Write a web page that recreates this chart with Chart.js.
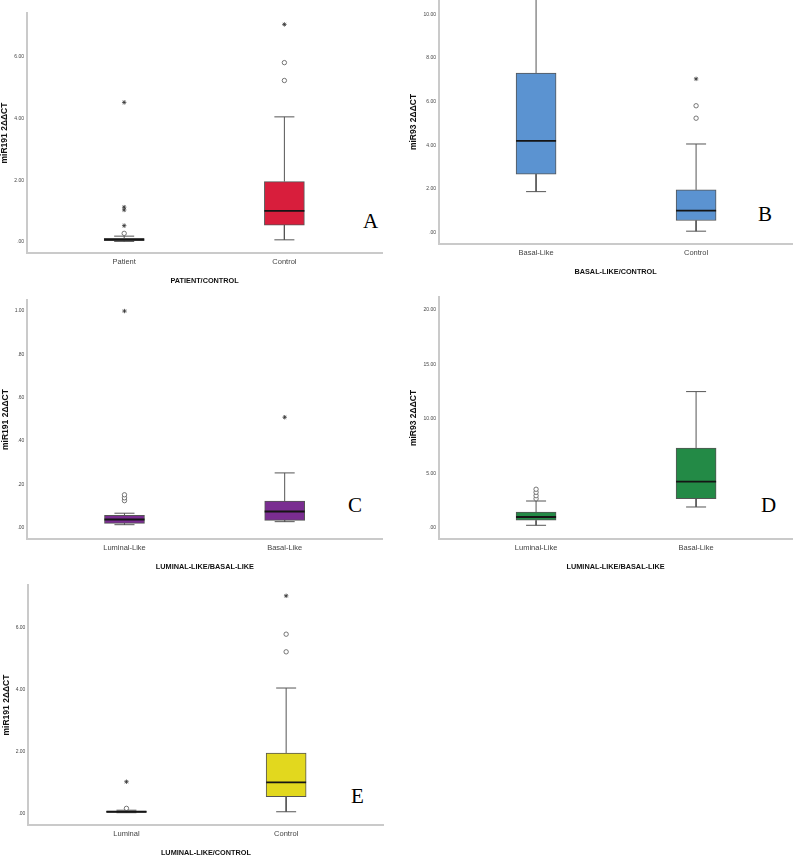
<!DOCTYPE html>
<html>
<head>
<meta charset="utf-8">
<script src="https://cdn.jsdelivr.net/npm/chart.js@4.4.0/dist/chart.umd.min.js"></script>
<style>
  html, body { margin: 0; padding: 0; background: #fff; width: 794px; height: 856px; overflow: hidden; }
  .panel { position: absolute; }
  .tag { position: absolute; font-family: 'Liberation Serif', 'Times New Roman', serif; font-size: 21px; line-height: 21px; color: #000; }
</style>
</head>
<body>
<div class="tag" style="left:363px;top:211px">A</div>
<div class="tag" style="left:758px;top:204px">B</div>
<div class="tag" style="left:348px;top:495px">C</div>
<div class="tag" style="left:761px;top:495px">D</div>
<div class="tag" style="left:351px;top:786px">E</div>
<script>
// A: miR191, patient vs control
const catsA = ['Patient', 'Control'];
const minA = [0.02, 0.07];
const q1A = [0.04, 0.55];
const medA = [0.08, 1.01];
const q3A = [0.12, 1.96];
const maxA = [0.19, 4.06];
const circA = [[0.28], [5.24, 5.82]];
const starA = [[0.53, 1.04, 1.13, 4.53], [7.06]];
const ticksA = [0, 2, 4, 6];

// B: miR93, basal-like vs control
const catsB = ['Basal-Like', 'Control'];
const minB = [1.88, 0.07];
const q1B = [2.68, 0.56];
const medB = [4.20, 1.01];
const q3B = [7.31, 1.96];
const maxB = [12.5, 4.06];
const circB = [[], [5.24, 5.81]];
const starB = [[], [7.04]];
const ticksB = [0, 2, 4, 6, 8, 10];

// C: miR191, luminal-like vs basal-like
const catsC = ['Luminal-Like', 'Basal-Like'];
const minC = [0.014, 0.028];
const q1C = [0.020, 0.034];
const medC = [0.038, 0.075];
const q3C = [0.057, 0.123];
const maxC = [0.067, 0.253];
const circC = [[0.125, 0.138, 0.152], []];
const starC = [[1.0], [0.51]];
const ticksC = [0, 0.2, 0.4, 0.6, 0.8, 1.0];

// D: miR93, luminal-like vs basal-like
const catsD = ['Luminal-Like', 'Basal-Like'];
const minD = [0.22, 1.90];
const q1D = [0.68, 2.66];
const medD = [0.98, 4.23];
const q3D = [1.44, 7.32];
const maxD = [2.45, 12.5];
const circD = [[2.66, 2.94, 3.25, 3.53], []];
const starD = [[], []];
const ticksD = [0, 5, 10, 15, 20];

// E: miR191, luminal vs control
const catsE = ['Luminal', 'Control'];
const minE = [0.02, 0.05];
const q1E = [0.03, 0.54];
const medE = [0.05, 1.00];
const q3E = [0.07, 1.95];
const maxE = [0.10, 4.05];
const circE = [[0.16], [5.22, 5.79]];
const starE = [[1.02], [7.03]];
const ticksE = [0, 2, 4, 6];

const FONT = "'Liberation Sans', Arial, sans-serif";
const LINE = '#555';
const AXIS = '#cacaca';
const YTITLE = 8.5;

// SPSS style: .00, .20, 2.00
function fmt(v) {
  const s = v.toFixed(2);
  return s[0] === '0' ? s.slice(1) : s;
}

function boxPlot(p) {
  const pt = 5, pb = 4, pr = 10, xH = 32;
  const left = p.titleX - YTITLE * 0.6;
  const yW = p.axisX - left;
  const top = p.top - pt;
  const w = p.right - left + pr;
  const h = (p.bottom - p.top) + pt + xH + pb;

  const wrap = document.createElement('div');
  wrap.className = 'panel';
  wrap.style.left = left + 'px';
  wrap.style.top = top + 'px';
  wrap.style.width = w + 'px';
  wrap.style.height = h + 'px';
  const cv = document.createElement('canvas');
  wrap.appendChild(cv);
  document.body.appendChild(wrap);

  const cap = 0.0625, half = 0.125;
  const boxes = p.q1.map((q, i) => ({x: i, y: [q, p.q3[i]]}));
  const whisk = [];
  p.lo.forEach((lo, i) => {
    const hi = p.hi[i];
    whisk.push(
      {x: i, y: p.q3[i]}, {x: i, y: hi}, {x: i, y: null},
      {x: i - cap, y: hi}, {x: i + cap, y: hi}, {x: i, y: null},
      {x: i, y: p.q1[i]}, {x: i, y: lo}, {x: i, y: null},
      {x: i - cap, y: lo}, {x: i + cap, y: lo}, {x: i, y: null}
    );
  });
  const meds = [];
  p.med.forEach((m, i) => meds.push({x: i - half, y: m}, {x: i + half, y: m}, {x: i, y: null}));
  const circ = [], star = [];
  p.circ.forEach((arr, i) => arr.forEach(v => circ.push({x: i, y: v})));
  p.star.forEach((arr, i) => arr.forEach(v => star.push({x: i, y: v})));

  new Chart(cv, {
    type: 'scatter',
    data: {
      datasets: [
        {type: 'line', data: meds, borderColor: '#151515', borderWidth: 1.8, pointRadius: 0, fill: false},
        {type: 'scatter', data: circ, pointStyle: 'circle', pointRadius: 2.2, backgroundColor: '#fff', borderColor: LINE, borderWidth: 0.8},
        {type: 'scatter', data: star, pointStyle: 'star', pointRadius: 2.2, borderColor: '#333', borderWidth: 0.8},
        {type: 'line', data: whisk, borderColor: LINE, borderWidth: 1, pointRadius: 0, fill: false},
        {type: 'bar', data: boxes, backgroundColor: p.color, borderColor: LINE, borderWidth: 1, borderSkipped: false, barThickness: 40}
      ]
    },
    options: {
      responsive: true,
      maintainAspectRatio: false,
      animation: false,
      events: [],
      layout: {padding: {top: pt, right: pr, bottom: pb, left: 0}},
      plugins: {legend: {display: false}, tooltip: {enabled: false}},
      scales: {
        x: {
          type: 'linear', min: p.xmin, max: p.xmax, offset: false,
          grid: {display: false, drawTicks: false},
          border: {color: AXIS, width: 2},
          ticks: {font: {size: 7.5, family: FONT}, color: '#444', padding: 4, callback: v => p.cats[v] || ''},
          title: {display: true, text: p.xTitle, color: '#111', padding: 0, font: {size: 7.3, weight: 'bold', family: FONT}},
          afterBuildTicks: s => { s.ticks = p.cats.map((c, i) => ({value: i})); },
          afterFit: s => { s.height = xH; }
        },
        y: {
          type: 'linear', min: p.ymin, max: p.ymax,
          grid: {display: false, drawTicks: false},
          border: {color: AXIS, width: 2},
          ticks: {font: {size: 5, family: FONT}, color: '#444', padding: 3, callback: v => fmt(v)},
          title: {display: true, text: p.yTitle, color: '#111', padding: 0, font: {size: YTITLE, weight: 'bold', family: FONT}},
          afterBuildTicks: s => { s.ticks = p.ticks.map(v => ({value: v})); },
          afterFit: s => { s.width = yW; s.paddingTop = 0; s.paddingBottom = 0; }
        }
      }
    }
  });
}

boxPlot({cats: catsA, lo: minA, q1: q1A, med: medA, q3: q3A, hi: maxA, circ: circA, star: starA, ticks: ticksA,
  color: '#d81e3c', yTitle: 'miR191 2ΔΔCT', xTitle: 'PATIENT/CONTROL',
  titleX: 5, axisX: 27, top: 13, bottom: 253, right: 382, ymin: -0.357, ymax: 7.43, xmin: -0.606, xmax: 1.61});

boxPlot({cats: catsB, lo: minB, q1: q1B, med: medB, q3: q3B, hi: maxB, circ: circB, star: starB, ticks: ticksB,
  color: '#5b93d1', yTitle: 'miR93 2ΔΔCT', xTitle: 'BASAL-LIKE/CONTROL',
  titleX: 414, axisX: 439, top: 0, bottom: 244, right: 792, ymin: -0.517, ymax: 10.65, xmin: -0.606, xmax: 1.6});

boxPlot({cats: catsC, lo: minC, q1: q1C, med: medC, q3: q3C, hi: maxC, circ: circC, star: starC, ticks: ticksC,
  color: '#7a2d91', yTitle: 'miR191 2ΔΔCT', xTitle: 'LUMINAL-LIKE/BASAL-LIKE',
  titleX: 5.7, axisX: 27, top: 300, bottom: 539, right: 382, ymin: -0.052, ymax: 1.051, xmin: -0.606, xmax: 1.61});

boxPlot({cats: catsD, lo: minD, q1: q1D, med: medD, q3: q3D, hi: maxD, circ: circD, star: starD, ticks: ticksD,
  color: '#238a46', yTitle: 'miR93 2ΔΔCT', xTitle: 'LUMINAL-LIKE/BASAL-LIKE',
  titleX: 414, axisX: 439, top: 297, bottom: 539, right: 792, ymin: -1.04, ymax: 21.19, xmin: -0.606, xmax: 1.6});

boxPlot({cats: catsE, lo: minE, q1: q1E, med: medE, q3: q3E, hi: maxE, circ: circE, star: starE, ticks: ticksE,
  color: '#e2d81e', yTitle: 'miR191 2ΔΔCT', xTitle: 'LUMINAL-LIKE/CONTROL',
  titleX: 6.7, axisX: 28, top: 585, bottom: 825, right: 383, ymin: -0.378, ymax: 7.38, xmin: -0.614, xmax: 1.609});
</script>
</body>
</html>
